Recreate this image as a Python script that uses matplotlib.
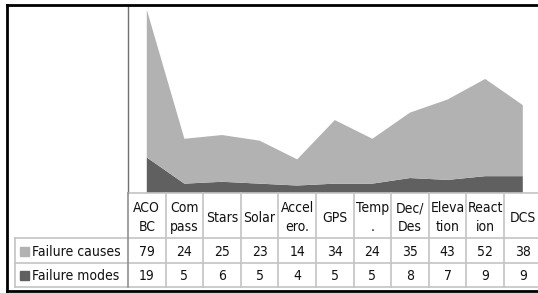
import matplotlib.pyplot as plt
from matplotlib.patches import Rectangle

plt.rcParams['font.family'] = ['DejaVu Sans']
plt.rcParams['font.stretch'] = 'condensed'

categories = ['ACO\nBC', 'Com\npass', 'Stars', 'Solar', 'Accel\nero.', 'GPS',
              'Temp\n.', 'Dec/\nDes', 'Eleva\ntion', 'React\nion', 'DCS']
failure_causes = [79, 24, 25, 23, 14, 34, 24, 35, 43, 52, 38]
failure_modes = [19, 5, 6, 5, 4, 5, 5, 8, 7, 9, 9]
series_names = ['Failure causes', 'Failure modes']

light = '#b2b2b2'
dark = '#606060'
grid_c = '#c4c4c4'
txt_c = '#111111'

W, H = 538, 293
fig = plt.figure(figsize=(W / 100, H / 100), dpi=100)

# pixel layout of the excel-like chart
x0, col_w = 128, 37.6
n = len(categories)
x1 = x0 + n * col_w
plot_top, plot_bot = 6, 193
row_y = [238, 263, 287]

ax = fig.add_axes([x0 / W, 1 - plot_bot / H, (x1 - x0) / W, (plot_bot - plot_top) / H])
xs = list(range(n))
ax.stackplot(xs, failure_modes, failure_causes, colors=[dark, light], linewidth=0)
ax.set_xlim(-0.5, n - 0.5)
ax.set_ylim(0, 100)
ax.set_xticks([])
ax.set_yticks([])
for s in ['top', 'right', 'bottom']:
    ax.spines[s].set_visible(False)
ax.spines['left'].set_color('#707070')
ax.spines['left'].set_linewidth(1.0)

# overlay in pixel coordinates for the data table and frame
ov = fig.add_axes([0, 0, 1, 1])
ov.set_xlim(0, W)
ov.set_ylim(H, 0)
ov.axis('off')
ov.patch.set_alpha(0)

ov.plot([x0, x1], [plot_bot, plot_bot], color=grid_c, lw=1.2)
for y in row_y:
    ov.plot([15, x1], [y, y], color=grid_c, lw=1.2)
ov.plot([15, 15], [row_y[0], row_y[-1]], color=grid_c, lw=1.2)
ov.plot([x0, x0], [plot_bot, row_y[-1]], color='#909090', lw=1.2)
for k in range(1, n + 1):
    xk = x0 + k * col_w
    ov.plot([xk, xk], [plot_bot, row_y[-1]], color=grid_c, lw=1.2)

fs = 10
for k, lab in enumerate(categories):
    xc = x0 + (k + 0.5) * col_w
    ov.text(xc, (plot_bot + row_y[0]) / 2 + 2, lab, ha='center', va='center',
            fontsize=fs, linespacing=1.45, color=txt_c)
    ov.text(xc, (row_y[0] + row_y[1]) / 2 + 1, str(failure_causes[k]),
            ha='center', va='center', fontsize=fs, color=txt_c)
    ov.text(xc, (row_y[1] + row_y[2]) / 2 + 1, str(failure_modes[k]),
            ha='center', va='center', fontsize=fs, color=txt_c)

for (ya, yb), name, c in zip([(row_y[0], row_y[1]), (row_y[1], row_y[2])],
                             series_names, [light, dark]):
    yc = (ya + yb) / 2
    ov.add_patch(Rectangle((20, yc - 4), 9, 9, color=c))
    ov.text(32, yc + 1, name, ha='left', va='center', fontsize=fs, color=txt_c)

# outer frame
ov.plot([7, W + 5], [5, 5], color='black', lw=2)
ov.plot([7, 7], [5, 291], color='black', lw=2)
ov.plot([7, W + 5], [291, 291], color='black', lw=2)

fig.savefig('out.png', dpi=100)
